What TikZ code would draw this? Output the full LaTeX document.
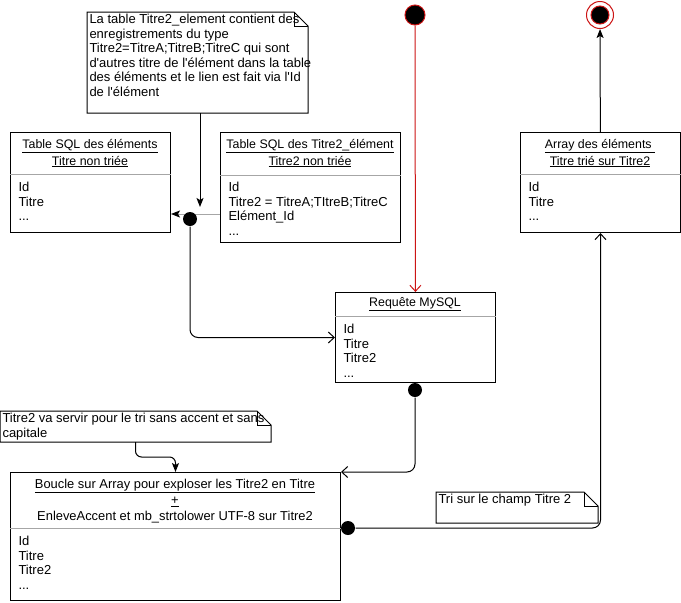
\documentclass[tikz,border=0pt]{standalone}
\usepackage{fontspec}
\setmainfont{Liberation Sans}[Ligatures=TeXOff]
\usetikzlibrary{arrows.meta,positioning}
\definecolor{startred}{RGB}{204,20,20}
\tikzset{
  box/.style={draw, anchor=north west, inner sep=0pt},
  head/.style={align=center, inner sep=0pt, font=\fontsize{12.4}{17}\selectfont},
  body/.style={align=left, anchor=north west, inner sep=0pt, font=\fontsize{13}{14.5}\selectfont},
  notetext/.style={align=left, anchor=north west, inner sep=2pt, font=\fontsize{13}{14.5}\selectfont},
  sep/.style={draw=gray!70},
  dot/.style={circle, fill=black, inner sep=0pt, minimum size=14pt},
  open arrow/.style={-{Straight Barb[length=6pt,width=11pt]}},
  fill arrow/.style={-{Stealth[length=9pt,width=7pt,inset=2pt]}}
}
\newcommand\notefold[1]{%
  \draw (#1.south west) -- (#1.north west) -- ([xshift=-14pt]#1.north east)
    -- ([yshift=-14pt]#1.north east) -- (#1.south east) -- cycle;
  \draw ([xshift=-14pt]#1.north east) -- ([xshift=-14pt,yshift=-14pt]#1.north east)
    -- ([yshift=-14pt]#1.north east);}
\begin{document}
\begin{tikzpicture}[x=1pt,y=-1pt,line width=1pt]
\useasboundingbox (0,0) rectangle (681,603);

% tables
\node[box, minimum width=160pt, minimum height=100pt] (tel) at (10,132) {};
\node[box, minimum width=180pt, minimum height=110pt] (tti) at (220,132) {};
\node[box, minimum width=160pt, minimum height=90pt] (req) at (335,292) {};
\node[box, minimum width=160pt, minimum height=100pt] (arr) at (520,132) {};
\node[box, minimum width=330pt, minimum height=128pt] (bcl) at (10,472) {};

\node[head] (telh) at (90,153) {\underline{Table SQL des éléments}\\\underline{Titre non triée}};
\node[head] (ttih) at (310,153) {\underline{Table SQL des Titre2\_élément}\\\underline{Titre2 non triée}};
\node[head] (reqh) at (415,304) {\underline{Requête MySQL}};
\node[head] (arrh) at (600,153) {\underline{Array des éléments }\\\underline{Titre trié sur Titre2}};
\node[head, font=\fontsize{12.9}{16}\selectfont] (bclh) at (175,501)
  {\underline{Boucle sur Array pour exploser les Titre2 en Titre}\\\underline{+}\\EnleveAccent et mb\_strtolower UTF-8 sur Titre2};

\foreach \b/\y in {tel/174,tti/175,req/316,arr/174,bcl/528}
  \draw[sep] (\b.west |- 0,\y) -- (\b.east |- 0,\y);

\node[body] (telb) at (18,182) {Id\\Titre\\...};
\node[body] (ttib) at (228,182) {Id\\Titre2 = TitreA;TItreB;TitreC\\Elément\_Id\\...};
\node[body] (reqb) at (343,324) {Id\\Titre\\Titre2\\...};
\node[body] (arrb) at (528,182) {Id\\Titre\\...};
\node[body] (bclb) at (18,536) {Id\\Titre\\Titre2\\...};

% notes
\node[box, draw=none, minimum width=220pt, minimum height=100pt] (n1) at (87,12) {};
\notefold{n1}
\node[notetext] (n1t) at (n1.north west) {La table Titre2\_element contient des\\enregistrements du type\\Titre2=TitreA;TitreB;TitreC qui sont\\d'autres titre de l'élément dans la table\\des éléments et le lien est fait via l'Id\\de l'élément};
\node[box, draw=none, minimum width=270pt, minimum height=30pt] (n2) at (0,411) {};
\notefold{n2}
\node[notetext] (n2t) at (n2.north west) {Titre2 va servir pour le tri sans accent et sans\\capitale};
\node[box, draw=none, minimum width=161pt, minimum height=30pt] (n3) at (436,492) {};
\notefold{n3}
\node[notetext] (n3t) at (n3.north west) {Tri sur le champ Titre 2};

% start / end
\node[circle, fill=black, draw=startred, minimum size=20pt, inner sep=0pt] (start) at (415,15) {};
\node[circle, draw=startred, minimum size=27pt, inner sep=0pt] (stop) at (600,15) {};
\node[circle, fill=black, draw=startred, minimum size=18pt, inner sep=0pt] (stopin) at (stop) {};
\draw[startred, open arrow] (start) -- (req);
\draw[fill arrow] (arr) -- (stop);

% connectors
\coordinate (nfoot) at (200,207);
\draw[fill arrow] (n1.south -| nfoot) -- (nfoot);
\draw[gray!70, -{Stealth[black,length=9pt,width=7pt,inset=2pt]}] (tti.west |- 0,214) -- (tel.east |- 0,214);
\node[dot] (jn) at (190,219) {};
\draw[rounded corners=8pt, open arrow] (jn) |- (req.west);
\node[dot] (rqd) at (415,390) {};
\draw[rounded corners=8pt, open arrow] (rqd) |- (bcl.north east);
\node[dot] (bcd) at (348,528) {};
\draw[rounded corners=8pt, open arrow] (bcd) -| (arr.south);
\draw[rounded corners=6pt, fill arrow] (n2.south) |- ([yshift=15pt]bcl.north) -- (bcl.north);
\end{tikzpicture}
\end{document}
